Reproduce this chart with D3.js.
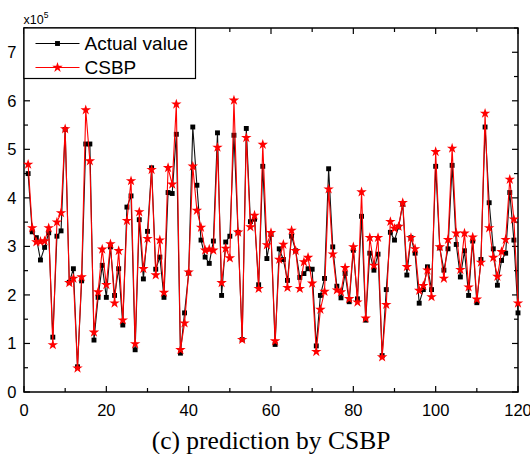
<!DOCTYPE html>
<html>
<head>
<meta charset="utf-8">
<script src="https://cdn.jsdelivr.net/npm/d3@7"></script>
<style>
  html, body { margin: 0; padding: 0; background: #fff; }
  svg { display: block; font-family: "Liberation Sans", Arial, sans-serif; }
</style>
</head>
<body>
<div id="chart"></div>
<script>
// values are in units of 10^5
const actualValue = [
  4.50, 3.30, 3.18, 2.72, 2.98, 3.28, 1.13, 3.21, 3.32, 5.41,
  2.26, 2.54, 0.52, 2.29, 5.11, 5.11, 1.07, 1.95, 2.61, 1.95,
  2.99, 1.99, 2.54, 1.38, 3.81, 4.04, 0.87, 3.55, 2.33, 3.31,
  4.62, 2.53, 2.78, 1.95, 4.11, 4.09, 5.31, 0.80, 1.63, 2.45,
  5.46, 4.26, 3.13, 2.78, 2.65, 3.11, 5.34, 1.99, 3.09, 3.21,
  5.29, 3.29, 1.08, 5.43, 3.51, 3.56, 2.21, 4.65, 2.75, 3.25,
  0.98, 2.95, 2.73, 2.30, 3.21, 2.91, 2.36, 2.44, 2.54, 2.53,
  0.95, 1.99, 2.34, 4.60, 2.99, 2.18, 1.94, 2.44, 1.86, 2.92,
  1.92, 3.62, 1.48, 2.86, 2.51, 2.84, 0.75, 2.11, 3.29, 3.13,
  3.40, 3.87, 2.41, 3.18, 2.86, 1.83, 2.11, 2.58, 2.11, 4.65,
  2.97, 2.51, 2.95, 4.67, 3.04, 2.37, 2.91, 1.99, 3.11, 1.84,
  2.73, 5.46, 3.90, 2.95, 2.20, 2.71, 2.86, 4.11, 3.13, 1.63
];
const csbpValue = [
  4.69, 3.38, 3.09, 3.10, 3.11, 3.38, 0.97, 3.50, 3.69, 5.42,
  2.25, 2.34, 0.49, 2.37, 5.81, 4.76, 1.23, 2.06, 2.94, 2.21,
  3.05, 1.83, 2.91, 1.48, 3.53, 4.35, 0.99, 3.71, 2.54, 3.16,
  4.58, 2.41, 3.13, 2.05, 4.62, 4.28, 5.93, 0.87, 1.42, 2.47,
  4.65, 3.74, 3.39, 2.92, 2.94, 2.92, 5.04, 2.25, 2.96, 2.76,
  6.01, 3.29, 1.08, 5.24, 3.40, 3.64, 2.13, 5.10, 3.03, 3.28,
  1.05, 2.73, 3.04, 2.15, 3.33, 2.91, 2.13, 2.68, 2.77, 2.24,
  0.83, 1.70, 2.07, 4.18, 2.84, 2.10, 2.06, 2.56, 1.92, 2.99,
  1.85, 4.12, 1.52, 3.18, 2.61, 3.18, 0.72, 1.80, 3.51, 3.37,
  3.41, 3.90, 2.58, 3.18, 2.95, 2.09, 2.19, 2.51, 1.96, 4.95,
  2.99, 2.34, 3.14, 5.02, 3.27, 2.52, 3.27, 2.16, 3.19, 1.91,
  2.67, 5.74, 3.38, 2.77, 2.38, 2.89, 3.14, 4.38, 3.56, 1.83
];
const xTicks = [0, 20, 40, 60, 80, 100, 120];
const yTicks = [0, 1, 2, 3, 4, 5, 6, 7];
const seriesNames = ["Actual value", "CSBP"];

const width = 530, height = 454;
const plotLeft = 24, plotRight = 518, plotTop = 28, plotBottom = 392;

const svg = d3.select("#chart").append("svg")
  .attr("width", width)
  .attr("height", height);

const x = d3.scaleLinear().domain([0, 120]).range([plotLeft, plotRight]);
const y = d3.scaleLinear().domain([0, 7.5]).range([plotBottom, plotTop]);

// 刻度 (ticks inward on all four sides)
const xMinor = d3.range(0, 121, 10);
const yMinor = d3.range(0, 7.51, 0.5);

function tickLen(v, step) { return Math.abs(v / step - Math.round(v / step)) < 1e-6 ? 6 : 4; }

const axisG = svg.append("g").attr("stroke", "#000").attr("stroke-width", 1.2);
xMinor.forEach(v => {
  const L = tickLen(v, 20);
  axisG.append("line").attr("x1", x(v)).attr("x2", x(v)).attr("y1", plotBottom).attr("y2", plotBottom - L);
  axisG.append("line").attr("x1", x(v)).attr("x2", x(v)).attr("y1", plotTop).attr("y2", plotTop + L);
});
yMinor.forEach(v => {
  const L = tickLen(v, 1);
  axisG.append("line").attr("x1", plotLeft).attr("x2", plotLeft + L).attr("y1", y(v)).attr("y2", y(v));
  axisG.append("line").attr("x1", plotRight).attr("x2", plotRight - L).attr("y1", y(v)).attr("y2", y(v));
});
svg.append("rect")
  .attr("x", plotLeft).attr("y", plotTop)
  .attr("width", plotRight - plotLeft).attr("height", plotBottom - plotTop)
  .attr("fill", "none").attr("stroke", "#000").attr("stroke-width", 1.5);

// 刻度标签
svg.append("g").selectAll("text").data(xTicks).enter().append("text")
  .attr("x", d => x(d)).attr("y", 416)
  .attr("text-anchor", "middle").attr("font-size", 16.5)
  .text(d => d);
svg.append("g").selectAll("text").data(yTicks).enter().append("text")
  .attr("x", 16.5).attr("y", d => y(d)).attr("dy", "0.36em")
  .attr("text-anchor", "end").attr("font-size", 16.5)
  .text(d => d);

const mult = svg.append("text").attr("x", 23.5).attr("y", 24).attr("font-size", 12.5);
mult.append("tspan").text("x10");
mult.append("tspan").attr("dy", -6).attr("font-size", 8.5).text("5");

// 数据线
const line = d3.line().x((d, i) => x(i + 1)).y(d => y(d));
const star = d3.symbol().type(d3.symbolStar).size(34);
const square = d3.symbol().type(d3.symbolSquare).size(24);

svg.append("path").datum(actualValue)
  .attr("d", line).attr("fill", "none").attr("stroke", "#111").attr("stroke-width", 1.1);
svg.append("g").selectAll("path").data(actualValue).enter().append("path")
  .attr("d", square)
  .attr("transform", (d, i) => `translate(${x(i + 1)},${y(d)})`)
  .attr("fill", "#000");

svg.append("path").datum(csbpValue)
  .attr("d", line).attr("fill", "none").attr("stroke", "#f00").attr("stroke-width", 1.1);
svg.append("g").selectAll("path").data(csbpValue).enter().append("path")
  .attr("d", star)
  .attr("transform", (d, i) => `translate(${x(i + 1)},${y(d)})`)
  .attr("fill", "#f00");

// 图例
const legend = svg.append("g");
legend.append("rect")
  .attr("x", plotLeft).attr("y", plotTop)
  .attr("width", 171.5).attr("height", 50.5)
  .attr("fill", "#fff").attr("stroke", "#000").attr("stroke-width", 1.2);
const legendRows = [
  { name: seriesNames[0], color: "#000", sym: square, yy: 43.5 },
  { name: seriesNames[1], color: "#f00", sym: star, yy: 67.5 }
];
legendRows.forEach(r => {
  legend.append("line")
    .attr("x1", 35.5).attr("x2", 79.5).attr("y1", r.yy).attr("y2", r.yy)
    .attr("stroke", r.color).attr("stroke-width", 1.1);
  legend.append("path").attr("d", r.sym)
    .attr("transform", `translate(57.5,${r.yy})`).attr("fill", r.color);
  legend.append("text")
    .attr("x", 84.5).attr("y", r.yy).attr("dy", "0.36em")
    .attr("font-size", 19).text(r.name);
});

// 标题
svg.append("text")
  .attr("x", (plotLeft + plotRight) / 2).attr("y", 449)
  .attr("text-anchor", "middle")
  .attr("font-family", "'Liberation Serif', 'Times New Roman', serif")
  .attr("font-size", 25.5)
  .text("(c) prediction by CSBP");
</script>
</body>
</html>
